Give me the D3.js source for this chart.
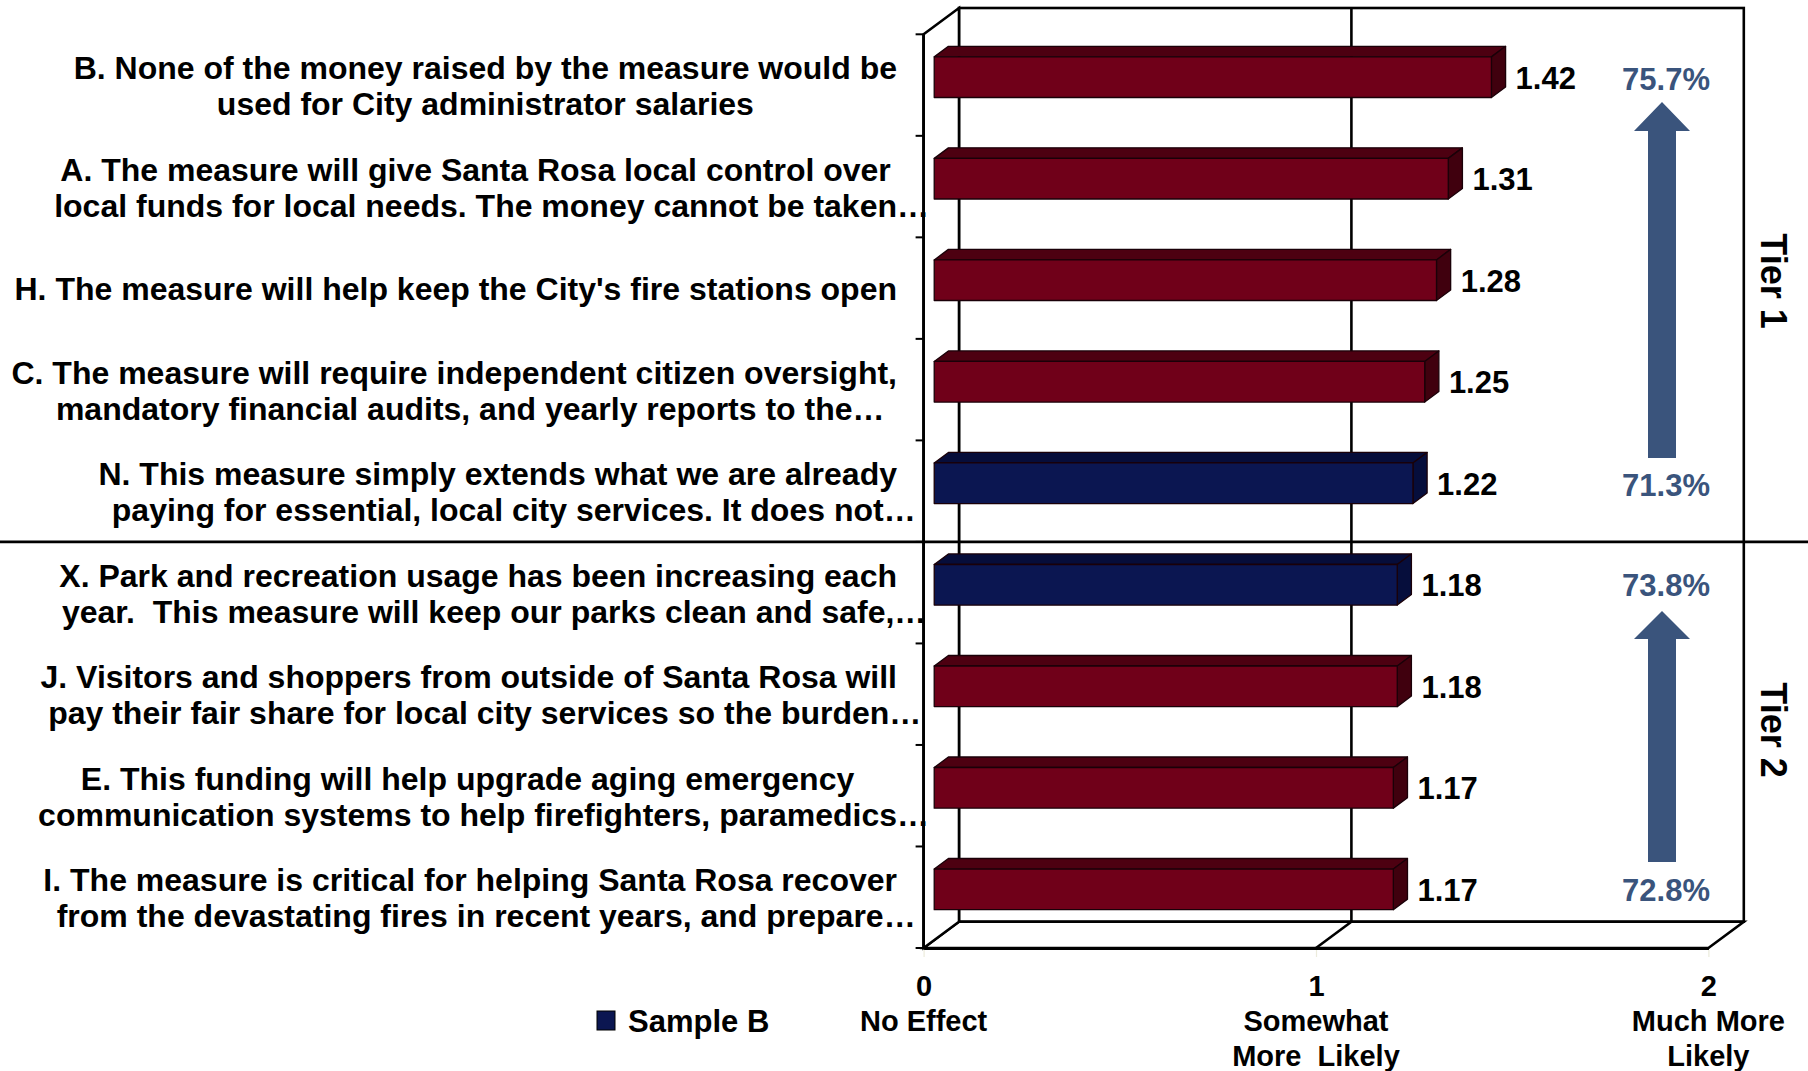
<!DOCTYPE html>
<html><head><meta charset="utf-8">
<script src="https://cdn.jsdelivr.net/npm/d3@7"></script>
<style>
body{margin:0;background:#fff;}
svg{display:block;}
text{font-family:"Liberation Sans",Arial,sans-serif;font-weight:bold;white-space:pre;}
</style>
</head><body>
<svg id="chart" width="1808" height="1071"></svg>
<script>
// ---------- DATA ----------
const categories = ["B","A","H","C","N","X","J","E","I"];
const labelLines = [
  ["B. None of the money raised by the measure would be","used for City administrator salaries"],
  ["A. The measure will give Santa Rosa local control over","local funds for local needs. The money cannot be taken…"],
  ["H. The measure will help keep the City's fire stations open"],
  ["C. The measure will require independent citizen oversight,","mandatory financial audits, and yearly reports to the…"],
  ["N. This measure simply extends what we are already","paying for essential, local city services. It does not…"],
  ["X. Park and recreation usage has been increasing each","year.  This measure will keep our parks clean and safe,…"],
  ["J. Visitors and shoppers from outside of Santa Rosa will","pay their fair share for local city services so the burden…"],
  ["E. This funding will help upgrade aging emergency","communication systems to help firefighters, paramedics…"],
  ["I. The measure is critical for helping Santa Rosa recover","from the devastating fires in recent years, and prepare…"]
];
const values = [1.42,1.31,1.28,1.25,1.22,1.18,1.18,1.17,1.17];
const seriesOf = ["Sample A","Sample A","Sample A","Sample A","Sample B","Sample B","Sample A","Sample A","Sample A"];
const xTicks = [0,1,2];
const xTickLabels = [["No Effect"],["Somewhat","More  Likely"],["Much More","Likely"]];
const tierNames = ["Tier 1","Tier 2"];
const tierTopPct = ["75.7%","73.8%"];
const tierBottomPct = ["71.3%","72.8%"];
const legendLabel = "Sample B";

// ---------- LAYOUT ----------
const W=1808,H=1071;
const X0=923.6, X2=1708.4, YT=34.3, YB=948, DX=35.4, DY=-26.3;
const Z0=0.3, Z1=0.7;
const colors = {
  "Sample A": {front:"#700019", top:"#4d0011", side:"#40000e"},
  "Sample B": {front:"#0b1651", top:"#060d3a", side:"#060e3c"}
};
const accent = "#3a547c";

const svg = d3.select("#chart");
svg.append("rect").attr("width",W).attr("height",H).attr("fill","#fff");

const x = d3.scaleLinear().domain([0,2]).range([X0,X2]);
const y = d3.scaleBand().domain(categories).range([YT,YB]).paddingInner(0.6).paddingOuter(0.3);
const step = y.step(), bw = y.bandwidth();

const wallStroke = {stroke:"#000","stroke-width":2.6,fill:"#fff","stroke-linejoin":"miter"};
function attrs(sel,o){for(const k in o) sel.attr(k,o[k]); return sel;}
const P = pts => pts.map(p=>p.join(",")).join(" ");

// back wall
attrs(svg.append("rect").attr("x",x(0)+DX).attr("y",YT+DY).attr("width",x(2)-x(0)).attr("height",YB-YT),wallStroke);
// floor
attrs(svg.append("polygon").attr("points",P([[x(0),YB],[x(2),YB],[x(2)+DX,YB+DY],[x(0)+DX,YB+DY]])),wallStroke);
// left wall
attrs(svg.append("polygon").attr("points",P([[x(0),YT],[x(0)+DX,YT+DY],[x(0)+DX,YB+DY],[x(0),YB]])),wallStroke);
// gridlines
xTicks.filter(t=>t>0 && t<2).forEach(t=>{
  svg.append("line").attr("x1",x(t)+DX).attr("x2",x(t)+DX).attr("y1",YT+DY).attr("y2",YB+DY).attr("stroke","#000").attr("stroke-width",2.6);
  svg.append("line").attr("x1",x(t)+DX).attr("x2",x(t)).attr("y1",YB+DY).attr("y2",YB).attr("stroke","#000").attr("stroke-width",2.6);
});

// category axis ticks (between categories)
const gY = svg.append("g");
d3.range(categories.length+1).forEach(i=>{
  const yy = YT + i*step;
  gY.append("line").attr("x1",x(0)-8).attr("x2",x(0)).attr("y1",yy).attr("y2",yy).attr("stroke","#000").attr("stroke-width",2);
});
gY.append("line").attr("x1",x(0)).attr("x2",x(0)).attr("y1",YT).attr("y2",YB).attr("stroke","#000").attr("stroke-width",2.8);

// x axis (value axis) along the floor front edge
const gX = svg.append("g").attr("transform",`translate(0,${YB})`)
  .call(d3.axisBottom(x).tickValues(xTicks).tickSize(9).tickSizeOuter(0).tickFormat(d3.format("d")));
gX.select(".domain").attr("stroke","#000").attr("stroke-width",2.8);
gX.selectAll(".tick line").attr("stroke","#ecebdc").attr("stroke-width",1.2).attr("y1",2);
gX.selectAll(".tick text").attr("font-size",29).attr("fill","#000").attr("y",38).attr("dy",0)
  .attr("dominant-baseline","central").attr("font-family",'"Liberation Sans",Arial,sans-serif').attr("font-weight","bold");
xTicks.forEach((t,i)=>{
  xTickLabels[i].forEach((ln,j)=>{
    svg.append("text").attr("x",x(t)).attr("y",1021+j*34.5).attr("text-anchor","middle")
      .attr("dominant-baseline","central").attr("font-size",29).attr("fill","#000").text(ln);
  });
});

// bars
const gB = svg.append("g");
categories.forEach((c,i)=>{
  const v = values[i], col = colors[seriesOf[i]];
  const xa = x(0), xb = x(v);
  const y0 = y(c) + Z0*DY, dz = Z1-Z0;
  const fx0 = xa + Z0*DX, fx1 = xb + Z0*DX;
  const sw = {stroke:"#1a0008","stroke-width":1.3,"stroke-linejoin":"round"};
  attrs(gB.append("polygon").attr("fill",col.top).attr("points",P([[fx0,y0],[fx0+dz*DX,y0+dz*DY],[fx1+dz*DX,y0+dz*DY],[fx1,y0]])),sw);
  attrs(gB.append("polygon").attr("fill",col.side).attr("points",P([[fx1,y0],[fx1+dz*DX,y0+dz*DY],[fx1+dz*DX,y0+bw+dz*DY],[fx1,y0+bw]])),sw);
  attrs(gB.append("rect").attr("fill",col.front).attr("x",fx0).attr("y",y0).attr("width",fx1-fx0).attr("height",bw),sw);
  svg.append("text").attr("x",xb+Z1*DX+10).attr("y",y0+bw/2+1).attr("dominant-baseline","central")
    .attr("font-size",31).attr("fill","#000").text(d3.format(".2f")(v));
});

// category labels
const gL = svg.append("g");
const R = 897, LH = 36, FS = 32;
categories.forEach((c,i)=>{
  const lines = labelLines[i];
  const cy = y(c) + bw/2 + 1;
  const widths = lines.map(ln=>{
    const base = ln.endsWith("…") ? ln.slice(0,-1) : ln;
    const t = gL.append("text").attr("font-size",FS).text(base);
    const w = t.node().getComputedTextLength(); t.remove(); return w;
  });
  const maxW = d3.max(widths), cx = R - maxW/2;
  lines.forEach((ln,j)=>{
    gL.append("text").attr("x",cx - widths[j]/2)
      .attr("y",cy + (j-(lines.length-1)/2)*LH).attr("dominant-baseline","central")
      .attr("font-size",FS).attr("fill","#000").text(ln);
  });
});

// tier divider
svg.append("line").attr("x1",0).attr("x2",W).attr("y1",YT+5*step).attr("y2",YT+5*step).attr("stroke","#000").attr("stroke-width",2.6);

// arrows & percentages
const arrowX = 1662, headHW = 28, shaftHW = 14;
const arrowGeom = [{tip:102,base:131,bottom:458,top:79.6,bot:485.5},{tip:611,base:639,bottom:862,top:585.8,bot:890}];
tierNames.forEach((t,i)=>{
  const g = arrowGeom[i];
  svg.append("polygon").attr("fill",accent).attr("points",P([
    [arrowX,g.tip],[arrowX+headHW,g.base],[arrowX+shaftHW,g.base],[arrowX+shaftHW,g.bottom],
    [arrowX-shaftHW,g.bottom],[arrowX-shaftHW,g.base],[arrowX-headHW,g.base]]));
  svg.append("text").attr("x",1666).attr("y",g.top).attr("text-anchor","middle").attr("dominant-baseline","central")
    .attr("font-size",31).attr("fill",accent).text(tierTopPct[i]);
  svg.append("text").attr("x",1666).attr("y",g.bot).attr("text-anchor","middle").attr("dominant-baseline","central")
    .attr("font-size",31).attr("fill",accent).text(tierBottomPct[i]);
  const ty = [281,730][i];
  svg.append("text").attr("transform",`translate(1773,${ty}) rotate(90)`).attr("text-anchor","middle")
    .attr("dominant-baseline","central").attr("font-size",36).attr("fill","#000").text(t);
});

// legend
svg.append("rect").attr("x",597).attr("y",1011).attr("width",18).attr("height",19)
  .attr("fill",colors["Sample B"].front).attr("stroke","#000").attr("stroke-width",1);
svg.append("text").attr("x",628).attr("y",1021).attr("dominant-baseline","central")
  .attr("font-size",31).attr("fill","#000").text(legendLabel);
</script>
</body></html>
